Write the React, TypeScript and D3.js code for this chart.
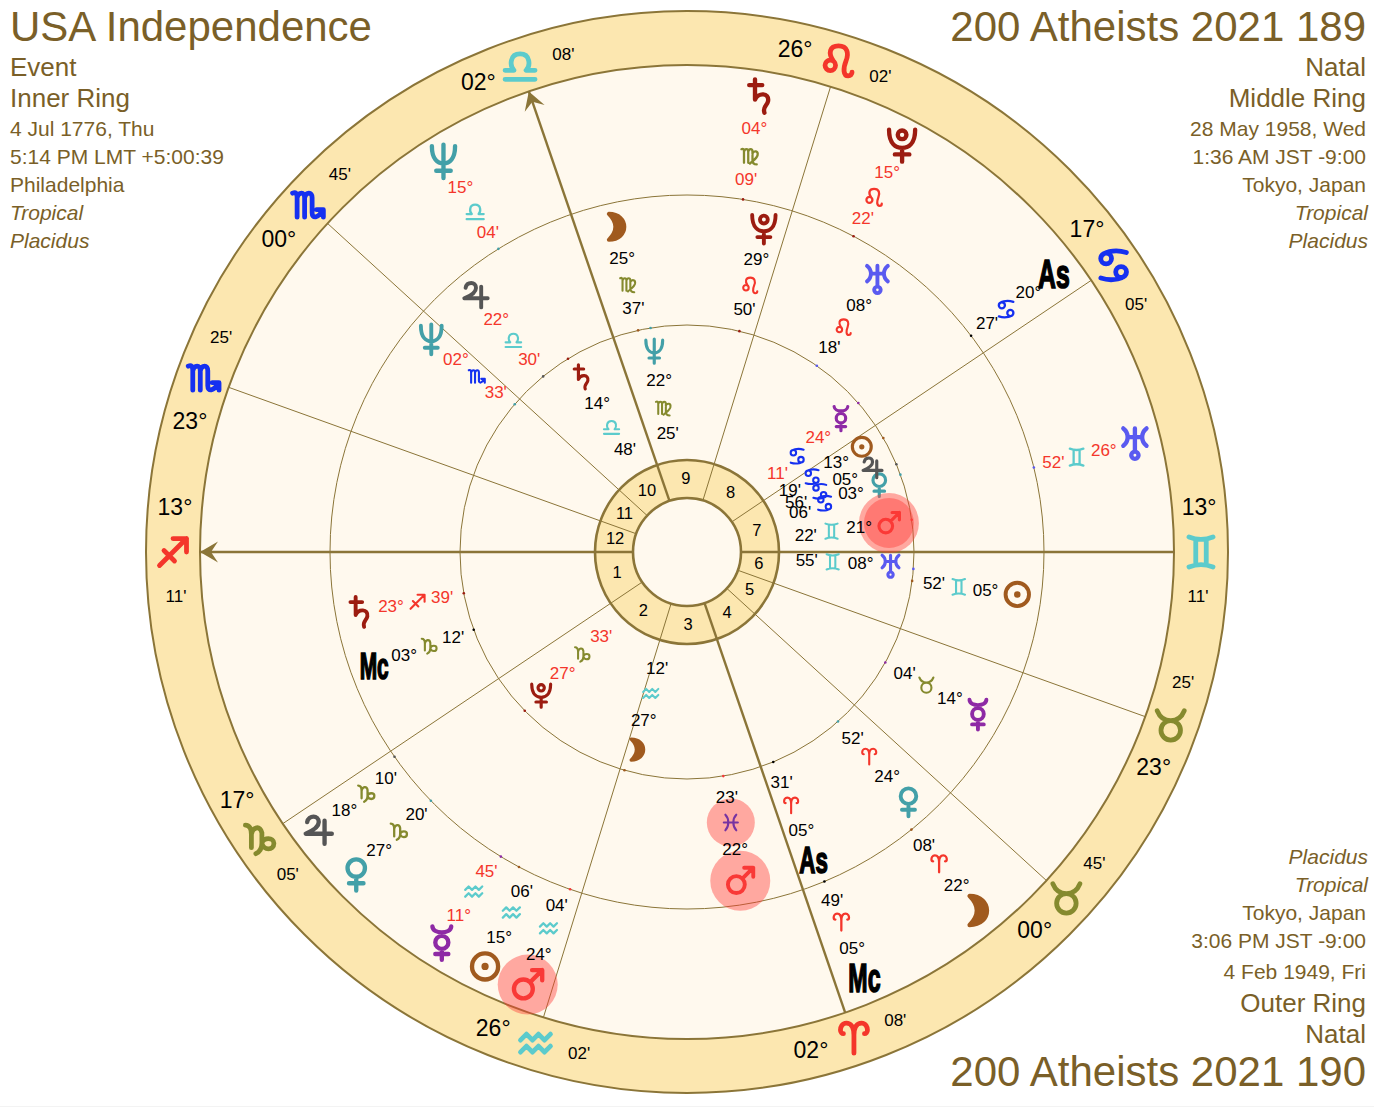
import * as d3 from "d3";

// chart geometry
const WIDTH = 1374;
const HEIGHT = 1108;
const CX = 687;
const CY = 552;
const R_OUTER = 541;
const R_WHEEL = 487;
const R_MIDDLE = 357;
const R_INNER = 227;
const R_HOUSE = 92;
const R_HUB = 54;

const BROWN = "#7a5f28";
const LINE = "#8b7538";
const BAND = "#fce7b0";
const CREAM = "#fff9ee";
const RETRO = "#f4362b";

const SIGNS = ["ari", "tau", "gem", "can", "leo", "vir", "lib", "sco", "sag", "cap", "aqu", "pis"];
const SIGN_COLORS = ["#f4362b", "#858a2e", "#5ccbcc", "#1530f0"];

const ASC_LON = 253.18;

// house cusps, 1 to 12
const cuspSigns = ["sag", "cap", "aqu", "ari", "tau", "tau", "gem", "can", "leo", "lib", "sco", "sco"];
const cuspDegrees = [13, 17, 26, 2, 0, 23, 13, 17, 26, 2, 0, 23];
const cuspMinutes = [11, 5, 2, 8, 45, 25, 11, 5, 2, 8, 45, 25];
const houseLabels = ["1", "2", "3", "4", "5", "6", "7", "8", "9", "10", "11", "12"];

// inner ring: USA Independence
const innerBodies = ["sun", "moon", "mer", "ven", "mar", "jup", "sat", "ura", "nep", "plu"];
const innerSigns = ["can", "aqu", "can", "can", "gem", "can", "lib", "gem", "vir", "cap"];
const innerDegrees = [13, 27, 24, 3, 21, 5, 14, 8, 22, 27];
const innerMinutes = [19, 12, 11, 6, 22, 56, 48, 55, 25, 33];
const innerRetro = [false, false, true, false, false, false, false, false, false, true];
const innerNudge = [0.9, 1.6, 0, -0.4, 0, 1.8, -0.5, 0.4, 0, 0];

// middle ring: 200 Atheists 2021 189
const middleBodies = ["sun", "moon", "mer", "ven", "mar", "jup", "sat", "ura", "nep", "plu", "as", "mc"];
const middleSigns = ["gem", "vir", "tau", "ari", "pis", "lib", "sag", "leo", "sco", "leo", "ari", "cap"];
const middleDegrees = [5, 25, 14, 24, 22, 22, 23, 8, 2, 29, 5, 3];
const middleMinutes = [52, 37, 4, 52, 23, 30, 39, 18, 33, 50, 31, 12];
const middleRetro = [false, false, false, false, false, true, true, false, true, false, false, false];
const middleNudge = [0, 0, 0, 0, 0, 0, 0, 0, 0.8, 0, 0, 0];

// outer ring: 200 Atheists 2021 190
const outerBodies = ["sun", "moon", "mer", "ven", "mar", "jup", "sat", "ura", "nep", "plu", "as", "mc"];
const outerSigns = ["aqu", "ari", "aqu", "cap", "aqu", "cap", "vir", "gem", "lib", "leo", "can", "ari"];
const outerDegrees = [15, 22, 11, 27, 24, 18, 4, 26, 15, 15, 20, 5];
const outerMinutes = [6, 8, 45, 20, 4, 10, 9, 52, 4, 22, 27, 49];
const outerRetro = [false, false, true, false, false, false, true, true, true, true, false, false];
const outerNudge = [2.1, 0, -0.7, 0, -1.1, 2, 0, 0, 0, 0, 0, 0];

const leftLines = ["Event", "Inner Ring", "4 Jul 1776, Thu", "5:14 PM LMT +5:00:39", "Philadelphia", "Tropical", "Placidus"];
const rightLines = ["Natal", "Middle Ring", "28 May 1958, Wed", "1:36 AM JST -9:00", "Tokyo, Japan", "Tropical", "Placidus"];
const bottomLines = ["Placidus", "Tropical", "Tokyo, Japan", "3:06 PM JST -9:00", "4 Feb 1949, Fri", "Outer Ring", "Natal"];

const BODY_COLORS: Record<string, string> = {
  sun: "#a05a1e",
  moon: "#a05a1e",
  mer: "#8e2aa5",
  ven: "#43a0a8",
  mar: "#f43a3a",
  jup: "#555555",
  sat: "#9c1c10",
  ura: "#5a5af0",
  nep: "#43a0a8",
  plu: "#9c1c10",
  as: "#000000",
  mc: "#000000",
};

const dot = (x: number, y: number, r: number) =>
  `M${x - r} ${y}a${r} ${r} 0 1 0 ${2 * r} 0a${r} ${r} 0 1 0 ${-2 * r} 0`;

// stroked symbols on a box of about -12..12
const GLYPHS: Record<string, string> = {
  ari: "M0 10V-2C0-8-2.5-10-5-10C-8-10-9-7-9-5.5C-9-4-8-3-7-3M0-2C0-8 2.5-10 5-10C8-10 9-7 9-5.5C9-4 8-3 7-3",
  tau: `M-9-10C-7-5-4-3.5 0-3.5C4-3.5 7-5 9-10${dot(0, 3, 6.5)}`,
  gem: "M-8-10C-3-8 3-8 8-10M-8 10C-3 8 3 8 8 10M-3.5-8.5V8.5M3.5-8.5V8.5",
  can: `M-8.5-4.5C-8.5-9 1-11 8.5-8.5${dot(-5, -4.5, 3.6)}M8.5 4.5C8.5 9-1 11-8.5 8.5${dot(5, 4.5, 3.6)}`,
  leo: `${dot(-5.5, 3, 3.5)}M-3.5 0C-7-5-6-10 0-10C6-10 7-5 5 0C3 5 3 10 6.5 10C8 10 9 9 9 7.5`,
  vir: "M-10-8C-8-9-7-8-7-5V8M-7-5C-6-9-2-9-2-5V8M-2-5C-1-9 3-9 3-5V5C3 8 5 10 8 10M3-3C5-7 10-6 9-1C8 3 3 6 0 9",
  lib: "M-10 9H10M-10 3H-4C-7 0-7-8 0-8C7-8 7 0 4 3H10",
  sco: "M-10-8C-8-9-7-8-7-5V8M-7-5C-6-9-2-9-2-5V8M-2-5C-1-9 3-9 3-5V5C3 9 7 9 10 3M6 3H10.5V8",
  sag: "M-9 9L9-9M0-9H9V0M-6-1L1 6",
  cap: "M-10-9C-7-9-6-6-6-3V6M-6-3C-5-8 0-9 1-4V3C1 7-1 9-3 10M1 3C2-1 9-1 9 3C9 8 2 8 1 3",
  aqu: "M-10-2L-6-6L-2-2L2-6L6-2L10-6M-10 6L-6 2L-2 6L2 2L6 6L10 2",
  pis: "M-7-10C-2-5-2 5-7 10M7-10C2-5 2 5 7 10M-9 0H9",
  sun: `${dot(0, 0, 9)}${dot(0, 0, 1)}`,
  moon: "M-5-10C3-10 7-5 7 0C7 5 3 10-5 10C-1 6 0 3 0 0C0-3-1-6-5-10Z",
  mer: `M-6.5-11C-6-5.5 6-5.5 6.5-11${dot(0, 0, 4.5)}M0 4.5V12M-4.5 8H4.5`,
  ven: `${dot(0, -3.5, 6)}M0 2.5V12M-5 7H5`,
  mar: `${dot(-3, 3, 6.5)}M2 -2L10-10M3-10H10V-3`,
  jup: "M-8-5C-7-10 0-10 0-5C0-2-4 1-9 3H9M4-6V10",
  sat: "M-7-8H2M-3-12V2C-1-3 7-3 6 3C5.5 6 2 7 3.5 11",
  ura: `M-8-10C-4-7-4-1-8 2M8-10C4-7 4-1 8 2M-5-4H5M0-10V6${dot(0, 8.5, 2.5)}`,
  nep: "M-8-10C-8-1-4 2 0 2C4 2 8-1 8-10M0-11V12M-5 7H5",
  plu: `${dot(0, -6.5, 3)}M-9-10C-9 0-4 2.5 0 2.5C4 2.5 9 0 9-10M0 2.5V12M-5 7H5`,
};

const signColor = (s: string) => SIGN_COLORS[SIGNS.indexOf(s) % 4];

// ecliptic longitude to angle on screen, degrees counterclockwise from east
const angleScale = d3.scaleLinear().domain([ASC_LON, ASC_LON + 360]).range([180, 540]);

const polar = (angle: number, r: number): [number, number] => {
  // d3.pointRadial measures clockwise from north
  const [x, y] = d3.pointRadial(((90 - angle) * Math.PI) / 180, r);
  return [CX + x, CY + y];
};

const lonOf = (sign: string, deg: number, min: number) => SIGNS.indexOf(sign) * 30 + deg + min / 60;

const pad = (n: number) => String(n).padStart(2, "0");

const Glyph = ({ name, at, scale, color, sw }: { name: string; at: [number, number]; scale: number; color: string; sw: number }) => (
  <path
    d={GLYPHS[name]}
    transform={`translate(${at[0]},${at[1]}) scale(${scale})`}
    fill={name === "moon" ? color : "none"}
    stroke={color}
    strokeWidth={sw}
    strokeLinecap="round"
    strokeLinejoin="round"
  />
);

interface RingProps {
  bodies: string[];
  signs: string[];
  degrees: number[];
  minutes: number[];
  retro: boolean[];
  nudge: number[];
  radii: number[]; // glyph, degree, sign, minute
  dotR: number;
  bodyScale: number;
  signScale: number;
  angleSize: number;
}

const Halos = ({ ring, extra, onSign }: { ring: RingProps; extra?: boolean; onSign?: boolean }) => {
  const i = ring.bodies.indexOf("mar");
  const a = angleScale(lonOf(ring.signs[i], ring.degrees[i], ring.minutes[i])) + ring.nudge[i];
  const p = polar(a, ring.radii[0]);
  const q = polar(a, ring.radii[2]);
  return (
    <g fill="#ff3a34" fillOpacity={0.42}>
      <circle cx={p[0]} cy={p[1]} r={30} />
      {extra ? <circle cx={p[0]} cy={p[1]} r={25} /> : null}
      {onSign ? <circle cx={q[0]} cy={q[1]} r={24} /> : null}
    </g>
  );
};

// glyphs go under the Mars halos, the texts over them
const RingMarks = ({ bodies, signs, degrees, minutes, nudge, radii, dotR, bodyScale, signScale, angleSize }: RingProps) => (
  <g>
    {bodies.map((body, i) => {
      const lon = lonOf(signs[i], degrees[i], minutes[i]);
      const a = angleScale(lon) + nudge[i];
      const [gx, gy] = polar(a, radii[0]);
      const sign = polar(a, radii[2]);
      const tick = polar(angleScale(lon), dotR);
      return (
        <g key={body}>
          <circle cx={tick[0]} cy={tick[1]} r={1.3} fill={BODY_COLORS[body]} />
          {body === "as" || body === "mc" ? (
            <text
              transform={`translate(${gx},${gy}) scale(${body === "as" ? 0.62 : 0.58},1.02)`}
              dy=".36em"
              textAnchor="middle"
              fontWeight="bold"
              fontSize={angleSize}
              stroke="#000"
              strokeWidth={1.6}
              fill="#000"
            >
              {body === "as" ? "As" : "Mc"}
            </text>
          ) : (
            <Glyph name={body} at={[gx, gy]} scale={bodyScale} color={BODY_COLORS[body]} sw={3} />
          )}
          <Glyph name={signs[i]} at={sign} scale={signScale} color={signColor(signs[i])} sw={2.7} />
        </g>
      );
    })}
  </g>
);

const RingTexts = ({ bodies, signs, degrees, minutes, retro, nudge, radii }: RingProps) => (
  <g fontSize={17}>
    {bodies.map((body, i) => {
      const a = angleScale(lonOf(signs[i], degrees[i], minutes[i])) + nudge[i];
      const deg = polar(a, radii[1]);
      const min = polar(a, radii[3]);
      const textFill = retro[i] ? RETRO : "#000";
      return (
        <g key={body} fill={textFill}>
          <text x={deg[0]} y={deg[1]} dy=".33em" textAnchor="middle">
            {pad(degrees[i])}°
          </text>
          <text x={min[0]} y={min[1]} dy=".33em" textAnchor="middle">
            {pad(minutes[i])}'
          </text>
        </g>
      );
    })}
  </g>
);

const innerRing: RingProps = {
  bodies: innerBodies,
  signs: innerSigns,
  degrees: innerDegrees,
  minutes: innerMinutes,
  retro: innerRetro,
  nudge: innerNudge,
  radii: [204, 174, 146, 120],
  dotR: R_INNER,
  bodyScale: 1.05,
  signScale: 0.76,
  angleSize: 30,
};
const middleRing: RingProps = {
  bodies: middleBodies,
  signs: middleSigns,
  degrees: middleDegrees,
  minutes: middleMinutes,
  retro: middleRetro,
  nudge: middleNudge,
  radii: [333, 301, 274, 249],
  dotR: R_INNER,
  bodyScale: 1.3,
  signScale: 0.78,
  angleSize: 36,
};
const outerRing: RingProps = {
  bodies: outerBodies,
  signs: outerSigns,
  degrees: outerDegrees,
  minutes: outerMinutes,
  retro: outerRetro,
  nudge: outerNudge,
  radii: [461, 429, 401, 377],
  dotR: R_MIDDLE,
  bodyScale: 1.45,
  signScale: 0.85,
  angleSize: 40,
};

const arc = d3.arc();
const annulus = (r0: number, r1: number) =>
  arc({ innerRadius: r0, outerRadius: r1, startAngle: 0, endAngle: 2 * Math.PI }) as string;

const arrowPath = (angle: number) => {
  // arrow head sitting inside the wheel, point on the rim
  const rad = (angle * Math.PI) / 180;
  const u = [Math.cos(rad), -Math.sin(rad)];
  const v = [-u[1], u[0]];
  const tip = polar(angle, R_WHEEL);
  const back = (along: number, side: number): [number, number] => [
    tip[0] - u[0] * along + v[0] * side,
    tip[1] - u[1] * along + v[1] * side,
  ];
  return d3.line()([tip, back(18, 10.5), back(11, 0), back(18, -10.5)]) + "Z";
};

const leftBaselines = [76, 107, 136, 164, 192, 220, 248];
const bottomBaselines = [864, 892, 920, 948, 979, 1012, 1043];
const lineSizes = [26, 26, 21, 21, 21, 21, 21];
const bottomSizes = [21, 21, 21, 21, 21, 26, 26];

const App = () => {
  const cuspAngles = cuspSigns.map((s, i) => angleScale(lonOf(s, cuspDegrees[i], cuspMinutes[i])));

  return (
    <svg
      width={WIDTH}
      height={HEIGHT}
      viewBox={`0 0 ${WIDTH} ${HEIGHT}`}
      style={{ position: "absolute", left: 0, top: 0 }}
      fontFamily="'Liberation Sans', Arial, sans-serif"
    >
      <rect width={WIDTH} height={HEIGHT} fill="#fff" />
      <line x1={0} x2={WIDTH} y1={1106.5} y2={1106.5} stroke="#f3f3f3" />

      {/* discs and bands */}
      <g transform={`translate(${CX},${CY})`}>
        <circle r={R_OUTER} fill={BAND} stroke={LINE} strokeWidth={2} />
        <circle r={R_WHEEL} fill={CREAM} stroke={LINE} strokeWidth={2} />
        <path d={annulus(R_HUB, R_HOUSE)} fill={BAND} />
        <circle r={R_MIDDLE} fill="none" stroke={LINE} strokeWidth={1} />
        <circle r={R_INNER} fill="none" stroke={LINE} strokeWidth={1} />
      </g>

      {/* house cusps */}
      {cuspAngles.map((a, i) => {
        const p0 = polar(a, R_HUB);
        const p1 = polar(a, R_WHEEL);
        const angular = i % 3 === 0;
        return (
          <line
            key={i}
            x1={p0[0]}
            y1={p0[1]}
            x2={p1[0]}
            y2={p1[1]}
            stroke={LINE}
            strokeWidth={angular ? 2.4 : 1}
          />
        );
      })}
      <path d={arrowPath(cuspAngles[0])} fill={LINE} />
      <path d={arrowPath(cuspAngles[9])} fill={LINE} />

      <g transform={`translate(${CX},${CY})`} fill="none" stroke={LINE} strokeWidth={2.6}>
        <circle r={R_HOUSE} />
        <circle r={R_HUB} />
      </g>

      {/* house numbers */}
      {houseLabels.map((label, i) => {
        const next = cuspAngles[(i + 1) % 12];
        const a0 = cuspAngles[i];
        const a1 = next < a0 ? next + 360 : next;
        const p = polar((a0 + a1) / 2, 73);
        return (
          <text key={label} x={p[0]} y={p[1]} dy=".3em" textAnchor="middle" fontSize={16.5} fill="#000">
            {label}
          </text>
        );
      })}

      {/* cusp labels in the band */}
      {cuspAngles.map((a, i) => {
        const dir = i < 6 ? -1 : 1;
        const deg = polar(a + dir * 5, 514);
        const min = polar(a - dir * 5, 513);
        const g = polar(a, 514);
        return (
          <g key={i}>
            <text x={deg[0]} y={deg[1]} dy=".33em" textAnchor="middle" fontSize={23} fill="#000">
              {pad(cuspDegrees[i])}°
            </text>
            <Glyph name={cuspSigns[i]} at={g} scale={1.5} color={signColor(cuspSigns[i])} sw={3.2} />
            <text x={min[0]} y={min[1]} dy=".33em" textAnchor="middle" fontSize={17} fill="#000">
              {pad(cuspMinutes[i])}'
            </text>
          </g>
        );
      })}

      <RingMarks {...innerRing} />
      <RingMarks {...middleRing} />
      <RingMarks {...outerRing} />

      {/* highlighted Mars */}
      <Halos ring={innerRing} extra />
      <Halos ring={middleRing} onSign />
      <Halos ring={outerRing} />

      <RingTexts {...innerRing} />
      <RingTexts {...middleRing} />
      <RingTexts {...outerRing} />

      {/* corner captions */}
      <g fill={BROWN}>
        <text x={10} y={41} fontSize={42}>USA Independence</text>
        {leftLines.map((t, i) => (
          <text key={i} x={10} y={leftBaselines[i]} fontSize={lineSizes[i]} fontStyle={i > 4 ? "italic" : "normal"}>
            {t}
          </text>
        ))}
        <text x={1366} y={41} fontSize={42} textAnchor="end">200 Atheists 2021 189</text>
        {rightLines.map((t, i) => (
          <text key={i} x={i > 4 ? 1368 : 1366} y={leftBaselines[i]} fontSize={lineSizes[i]} textAnchor="end" fontStyle={i > 4 ? "italic" : "normal"}>
            {t}
          </text>
        ))}
        {bottomLines.map((t, i) => (
          <text key={i} x={i < 2 ? 1368 : 1366} y={bottomBaselines[i]} fontSize={bottomSizes[i]} textAnchor="end" fontStyle={i < 2 ? "italic" : "normal"}>
            {t}
          </text>
        ))}
        <text x={1366} y={1086} fontSize={42} textAnchor="end">200 Atheists 2021 190</text>
      </g>
    </svg>
  );
};

export default App;
